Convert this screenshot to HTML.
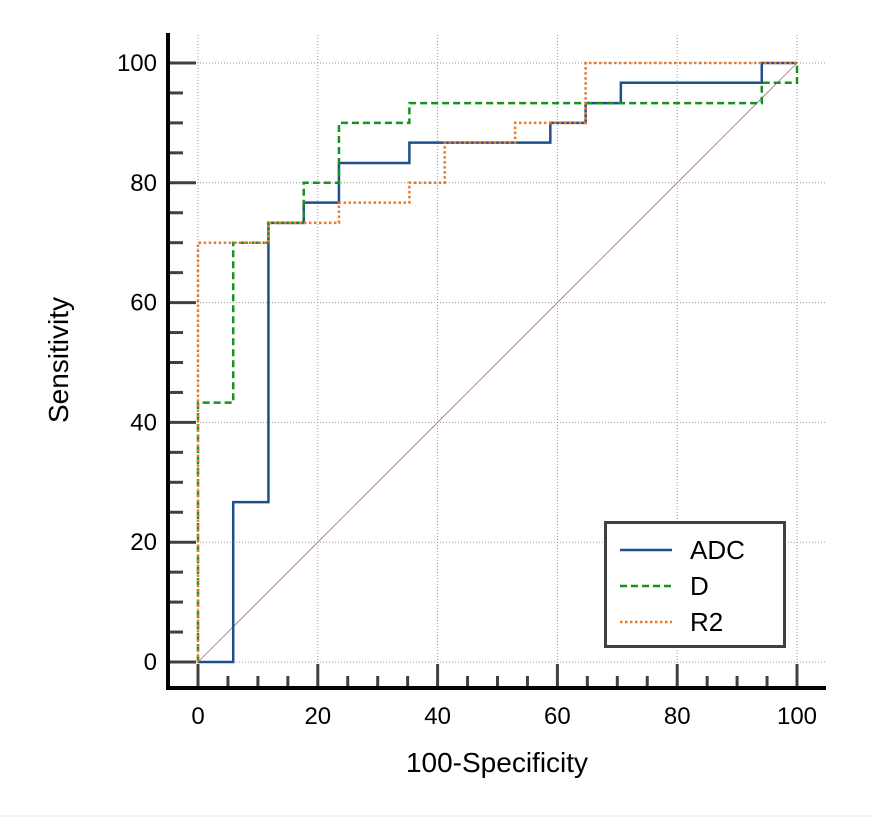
<!DOCTYPE html>
<html><head><meta charset="utf-8"><style>
body{margin:0;background:#fff;}
svg text{font-family:"Liberation Sans",Arial,sans-serif;fill:#000;}
</style></head><body>
<svg id="chart" width="871" height="820" xmlns="http://www.w3.org/2000/svg">
<g id="grid"></g>
<g id="axes"></g>
<g id="series"></g>
<text x="0" y="0" font-size="28" text-anchor="middle" transform="translate(68,360) rotate(-90)">Sensitivity</text>
<text x="497" y="772" font-size="28" text-anchor="middle">100-Specificity</text>
<g>
<rect x="605.5" y="522.5" width="179" height="124" fill="#fff" stroke="#404040" stroke-width="3"/>
<line x1="620" y1="550" x2="672" y2="550" stroke="#1f4e8c" stroke-width="2.5"/>
<text x="690" y="559" font-size="26">ADC</text>
<line x1="620" y1="586" x2="672" y2="586" stroke="#16921e" stroke-width="2.5" stroke-dasharray="7,4"/>
<text x="690" y="595" font-size="26">D</text>
<line x1="620" y1="622" x2="672" y2="622" stroke="#e87a2a" stroke-width="2.5" stroke-dasharray="2.5,2.5"/>
<text x="690" y="631" font-size="26">R2</text>
</g>
<line x1="0" y1="816" x2="871" y2="816" stroke="#e6e6e6" stroke-width="1"/>
</svg>
<script>
const ticks=[0,20,40,60,80,100];
const adcX=[0,5.88,5.88,11.76,11.76,17.65,17.65,23.53,23.53,35.29,35.29,58.82,58.82,64.71,64.71,70.59,70.59,94.12,94.12,100];
const adcY=[0,0,26.7,26.7,73.3,73.3,76.7,76.7,83.3,83.3,86.7,86.7,90,90,93.3,93.3,96.7,96.7,100,100];
const dX=[0,0,5.88,5.88,11.76,11.76,17.65,17.65,23.53,23.53,35.29,35.29,94.12,94.12,100,100];
const dY=[0,43.3,43.3,70,70,73.3,73.3,80,80,90,90,93.3,93.3,96.7,96.7,100];
const r2X=[0,0,11.76,11.76,23.53,23.53,35.29,35.29,41.18,41.18,52.94,52.94,64.71,64.71,100];
const r2Y=[0,70,70,73.3,73.3,76.7,76.7,80,80,86.7,86.7,90,90,100,100];
const NS="http://www.w3.org/2000/svg";
const sx=v=>198+v*5.99, sy=v=>662-v*5.99;
function mk(tag,attrs,parent){const e=document.createElementNS(NS,tag);for(const k in attrs)e.setAttribute(k,attrs[k]);parent.appendChild(e);return e;}
const grid=document.getElementById('grid'),axes=document.getElementById('axes'),series=document.getElementById('series');
ticks.forEach(t=>{
 const gv=mk('line',{x1:sx(t),y1:35,x2:sx(t),y2:686,stroke:'#999','stroke-width':1,'stroke-dasharray':'1,2'},grid);
 
 
 const gh=mk('line',{x1:170,y1:sy(t),x2:825,y2:sy(t),stroke:'#999','stroke-width':1,'stroke-dasharray':'1,2'},grid);
 
 
 const xl=mk('text',{x:sx(t),y:724,'font-size':24,'text-anchor':'middle'},axes);xl.textContent=t;
 
 
 const yl=mk('text',{x:157,y:sy(t)+8,'font-size':24,'text-anchor':'end'},axes);yl.textContent=t;
 
 
});
for(let v=0;v<=100;v+=5){
 const major=v%20===0;
 const tx=mk('line',{x1:sx(v),y1:686,x2:sx(v),y2:major?664:676,stroke:'#404040','stroke-width':3},axes);
 
 
 const ty=mk('line',{x1:170,y1:sy(v),x2:major?196:183,y2:sy(v),stroke:'#404040','stroke-width':3},axes);
 
 
}
const ya=mk('line',{x1:168,y1:33,x2:168,y2:690,stroke:'#000','stroke-width':4},axes);


const xa=mk('line',{x1:166,y1:688,x2:826,y2:688,stroke:'#000','stroke-width':4},axes);


const diag=mk('line',{x1:sx(0),y1:sy(0),x2:sx(100),y2:sy(100),stroke:'#c0607a','stroke-width':0.8},series);


function path(xs,ys,color,dash,name){
 const d=xs.map((x,i)=>(i?'L':'M')+sx(x)+','+sy(ys[i])).join(' ');
 const p=mk('path',{d:d,fill:'none',stroke:color,'stroke-width':2.5},series);
 if(dash)p.setAttribute('stroke-dasharray',dash);
 
 
}
path(adcX,adcY,'#1f4e8c',null,'adc-curve');
path(dX,dY,'#16921e','7,4','d-curve');
path(r2X,r2Y,'#e87a2a','2.5,2.5','r2-curve');
</script>
</body></html>
